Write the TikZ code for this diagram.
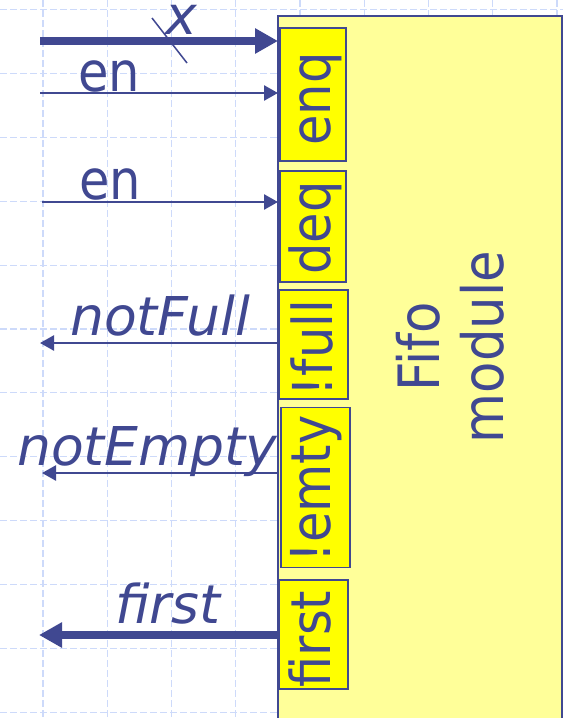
\documentclass[tikz,border=0pt]{standalone}
\usepackage{fontspec}
\setmainfont{DejaVu Sans}
\newfontfamily\condf{DejaVu Sans}[FakeStretch=0.9]
\usetikzlibrary{arrows.meta}
\definecolor{ink}{RGB}{64,72,145}
\definecolor{gridc}{RGB}{205,218,250}
\definecolor{modfill}{RGB}{255,255,153}
\definecolor{portfill}{RGB}{255,255,0}
\begin{document}
\begin{tikzpicture}[x=1pt,y=-1pt,
  gridline/.style={draw=gridc, line width=1.1pt, dash pattern=on 7pt off 3pt},
  modbox/.style={draw=ink, line width=2pt, fill=modfill, inner sep=0pt, outer sep=0pt},
  portbox/.style={draw=ink, line width=1.6pt, fill=portfill, inner sep=0pt, outer sep=0pt},
  porttext/.style={text=ink, rotate=90, anchor=base, inner sep=0pt, font=\condf\fontsize{55}{60}\selectfont},
  modtext/.style={text=ink, rotate=90, anchor=base, inner sep=0pt, font=\condf\fontsize{57}{60}\selectfont},
  itlbl/.style={text=ink, anchor=base west, inner sep=0pt, font=\itshape\fontsize{53.5}{60}\selectfont},
  uplbl/.style={text=ink, anchor=base west, inner sep=0pt, font=\condf\fontsize{55}{60}\selectfont},
  sigthin/.style={draw=ink, line width=2.5pt, -{Triangle[length=14pt,width=15pt]}},
  sigthick/.style={draw=ink, line width=8pt, -{Triangle[length=23pt,width=24pt]}},
]
\useasboundingbox (0,0) rectangle (563,718);
\clip (0,0) rectangle (563,718);
\fill[white] (0,0) rectangle (563,718);
% grid
\foreach \gx in {43,107.25,171.5,235.75,300,364.25,428.5,492.75,557}
  \draw[gridline] (\gx,0) -- (\gx,718);
\foreach \gy in {9.5,73.4,137.3,201.2,265.1,329,392.9,456.8,520.7,584.6,648.5,712.4}
  \draw[gridline] (0,\gy) -- (563,\gy);
% module
\node[modbox, minimum width=284pt, minimum height=724pt] (mod) at (420,378) {};
\node[modtext] (fifo) at (439,347) {Fifo};
\node[modtext] (module) at (503,347) {module};
% ports
\node[portbox, minimum width=66pt, minimum height=133pt] (enqbox) at (313,94.5) {};
\node[portbox, minimum width=66pt, minimum height=111pt] (deqbox) at (313,226.5) {};
\node[portbox, minimum width=69pt, minimum height=109pt] (fullbox) at (313.5,344.5) {};
\node[portbox, minimum width=69pt, minimum height=160pt] (emtybox) at (315.5,487.5) {};
\node[portbox, minimum width=69pt, minimum height=109pt] (firstbox) at (313.5,634.5) {};
\node[porttext] (enq) at (330,99) {enq};
\node[porttext] (deq) at (330,228) {deq};
\node[porttext] (full) at (332,348) {!full};
\node[porttext] (emty) at (330,489) {!emty};
\node[porttext] (first) at (330,639) {first};
% signals
\coordinate (xin) at (40,41);
\coordinate (enin) at (40,93);
\coordinate (dqin) at (42,202);
\coordinate (fullout) at (40,343);
\coordinate (emtyout) at (42,473);
\coordinate (firstout) at (39,635);
\draw[sigthick] (xin) -- (xin -| mod.west);
\draw[sigthin] (enin) -- (enin -| mod.west);
\draw[sigthin] (dqin) -- (dqin -| mod.west);
\draw[sigthin] (fullout -| mod.west) -- (fullout);
\draw[sigthin] (emtyout -| mod.west) -- (emtyout);
\draw[sigthick] (firstout -| mod.west) -- (firstout);
% bus slash
\coordinate (xs1) at (152,18);
\coordinate (xs2) at (187,63);
\draw[draw=ink, line width=1.5pt] (xs1) -- (xs2);
% labels
\node[itlbl] (xlbl) at (165,34) {x};
\node[uplbl] (en1) at (78,91) {en};
\node[uplbl] (en2) at (79,199) {en};
\node[itlbl] (nf) at (70,335) {notFull};
\node[itlbl] (ne) at (17,465) {notEmpty};
\node[itlbl] (fi) at (115,623) {first};
\end{tikzpicture}
\end{document}
